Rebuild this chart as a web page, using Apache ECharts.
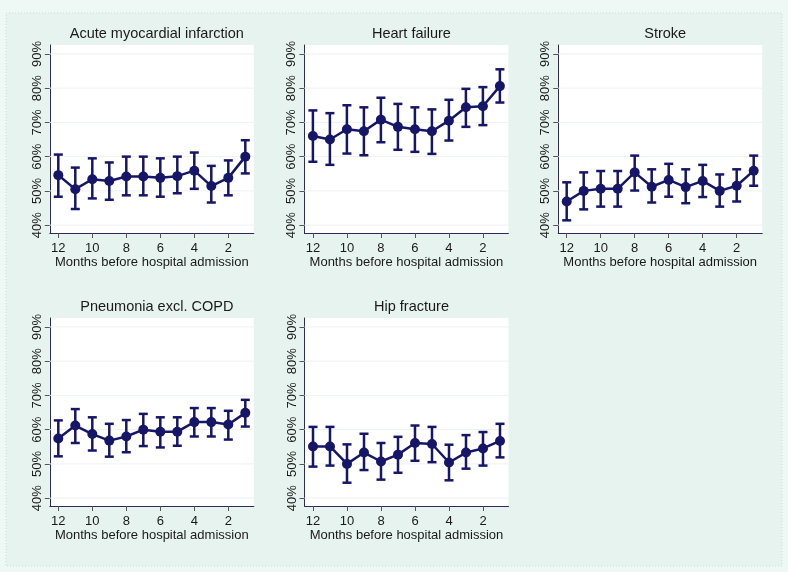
<!DOCTYPE html>
<html><head><meta charset="utf-8">
<script src="https://cdn.jsdelivr.net/npm/echarts@6/dist/echarts.min.js"></script>
<style>html,body{margin:0;padding:0;background:#eef9f5}#c{width:788px;height:572px}</style>
</head><body><div id="c"></div>
<script>
const months = [12,11,10,9,8,7,6,5,4,3,2,1];
const yTicks = [40,50,60,70,80,90];
const xTicks = [12,10,8,6,4,2];
const titles = ['Acute myocardial infarction','Heart failure','Stroke','Pneumonia excl. COPD','Hip fracture'];
const xTitle = 'Months before hospital admission';

const amiEst = [54.6,50.5,53.4,52.9,54.2,54.2,53.8,54.3,55.9,51.4,53.8,60.0];
const amiLo  = [48.3,44.7,47.8,47.4,48.7,48.7,48.3,49.3,50.6,46.6,48.7,55.1];
const amiHi  = [60.6,56.8,59.5,58.3,60.0,60.0,59.5,60.0,61.2,57.3,58.9,64.8];

const hfEst = [66.0,65.0,68.0,67.4,70.8,68.7,68.0,67.4,70.5,74.4,74.7,80.6];
const hfLo  = [58.5,57.6,60.9,60.4,64.2,62.0,61.4,60.8,64.7,68.7,69.2,75.8];
const hfHi  = [73.5,72.7,75.0,74.4,77.2,75.4,74.4,73.8,76.6,79.8,80.3,85.5];

const strokeEst = [46.9,50.0,50.6,50.6,55.4,51.2,53.2,51.1,52.9,50.0,51.5,55.9];
const strokeLo  = [41.4,44.6,45.4,45.4,50.1,46.6,48.3,46.4,48.2,45.4,46.9,51.5];
const strokeHi  = [52.5,55.4,55.8,55.8,60.3,56.3,57.9,56.3,57.6,54.8,56.3,60.3];

const pneuEst = [57.4,61.2,58.7,56.8,58.0,60.0,59.4,59.4,62.2,62.2,61.5,64.9];
const pneuLo  = [52.2,56.1,53.9,52.1,53.4,55.2,54.8,55.3,58.0,58.0,57.1,60.9];
const pneuHi  = [62.7,66.0,63.6,61.7,62.8,64.6,63.6,63.6,66.3,66.3,65.5,68.7];

const hipEst = [55.1,55.1,50.0,53.3,50.7,52.7,56.1,55.8,50.4,53.3,54.5,56.7];
const hipLo  = [49.2,49.5,44.5,48.2,45.4,47.4,50.9,50.5,45.2,48.6,49.5,51.9];
const hipHi  = [60.8,60.8,55.7,58.8,56.1,57.9,61.2,60.8,55.6,58.4,59.3,61.7];

const panelData = [
  [amiEst, amiLo, amiHi],
  [hfEst, hfLo, hfHi],
  [strokeEst, strokeLo, strokeHi],
  [pneuEst, pneuLo, pneuHi],
  [hipEst, hipLo, hipHi]
];

const NAVY = '#161668';
const FONT = 'Liberation Sans, Arial, sans-serif';
const lefts = [49.8, 304.4, 558.2, 49.8, 304.5];
const tops = [45, 45, 45, 318, 318];
const W = 204, H = 188;
const X_MIN = 0.5, X_MAX = 12.5;

const grids = [], xAxes = [], yAxes = [], series = [], titleArr = [];
panelData.forEach((pd, i) => {
  grids.push({left: lefts[i], top: tops[i], width: W, height: H, show: true,
    backgroundColor: '#ffffff', borderWidth: 0});
  titleArr.push({text: titles[i], left: lefts[i] + W/2, top: tops[i] - 24, textAlign: 'center',
    textStyle: {fontFamily: FONT, fontSize: 14.5, fontWeight: 'normal', color: '#1a1a1a'}});
  xAxes.push({gridIndex: i, type: 'value', inverse: true, min: X_MIN, max: X_MAX,
    name: xTitle, nameLocation: 'middle', nameGap: 23,
    nameTextStyle: {fontFamily: FONT, fontSize: 13, color: '#1a1a1a'},
    axisLine: {show: true, lineStyle: {color: '#2c2c5c', width: 1}},
    axisTick: {show: true, length: 5, customValues: xTicks, lineStyle: {color: '#555'}},
    axisLabel: {customValues: xTicks, fontFamily: FONT, fontSize: 13, color: '#1a1a1a', margin: 9},
    splitLine: {show: false}});
  yAxes.push({gridIndex: i, type: 'value', min: 37.7, max: 92.6,
    axisLine: {show: true, lineStyle: {color: '#2c2c5c', width: 1}},
    axisTick: {show: true, length: 5, customValues: yTicks, lineStyle: {color: '#555'}},
    axisLabel: {customValues: yTicks, rotate: 90, fontFamily: FONT, fontSize: 13, color: '#1a1a1a', margin: 6,
      formatter: v => v + '%'},
    splitLine: {show: false}});
  // faint horizontal gridlines
  series.push({type: 'custom', xAxisIndex: i, yAxisIndex: i, z: 1, silent: true,
    data: yTicks.map(v => [X_MIN, v, X_MAX]),
    renderItem: (params, api) => {
      const a = api.coord([api.value(0), api.value(1)]);
      const b = api.coord([api.value(2), api.value(1)]);
      return {type: 'line', shape: {x1: a[0], y1: a[1], x2: b[0], y2: b[1]},
        style: {stroke: '#edf2f1', lineWidth: 1}};
    }});
  const [est, lo, hi] = pd;
  series.push({type: 'custom', xAxisIndex: i, yAxisIndex: i, z: 3,
    data: months.map((m, k) => [m, lo[k], hi[k]]),
    renderItem: (params, api) => {
      const x = api.value(0);
      const p1 = api.coord([x, api.value(2)]);
      const p2 = api.coord([x, api.value(1)]);
      const cw = 4.5;
      const st = {stroke: NAVY, lineWidth: 2.5};
      return {type: 'group', children: [
        {type: 'line', shape: {x1: p1[0], y1: p1[1], x2: p2[0], y2: p2[1]}, style: st},
        {type: 'line', shape: {x1: p1[0]-cw, y1: p1[1], x2: p1[0]+cw, y2: p1[1]}, style: st},
        {type: 'line', shape: {x1: p2[0]-cw, y1: p2[1], x2: p2[0]+cw, y2: p2[1]}, style: st}
      ]};
    }});
  series.push({type: 'line', xAxisIndex: i, yAxisIndex: i, z: 4,
    data: months.map((m, k) => [m, est[k]]),
    symbol: 'circle', symbolSize: 10, showSymbol: true, showAllSymbol: true,
    lineStyle: {color: NAVY, width: 2.5}, itemStyle: {color: NAVY}, animation: false});
});

const chart = echarts.init(document.getElementById('c'), null, {renderer: 'canvas'});
chart.setOption({
  animation: false,
  backgroundColor: '#eef9f5',
  graphic: [{type: 'rect', z: -10, shape: {x: 6, y: 13, width: 776, height: 553},
    style: {fill: '#e7f3ef', stroke: '#cbdad6', lineWidth: 1, lineDash: [1, 2]}}],
  title: titleArr,
  grid: grids, xAxis: xAxes, yAxis: yAxes, series: series
});
</script></body></html>
